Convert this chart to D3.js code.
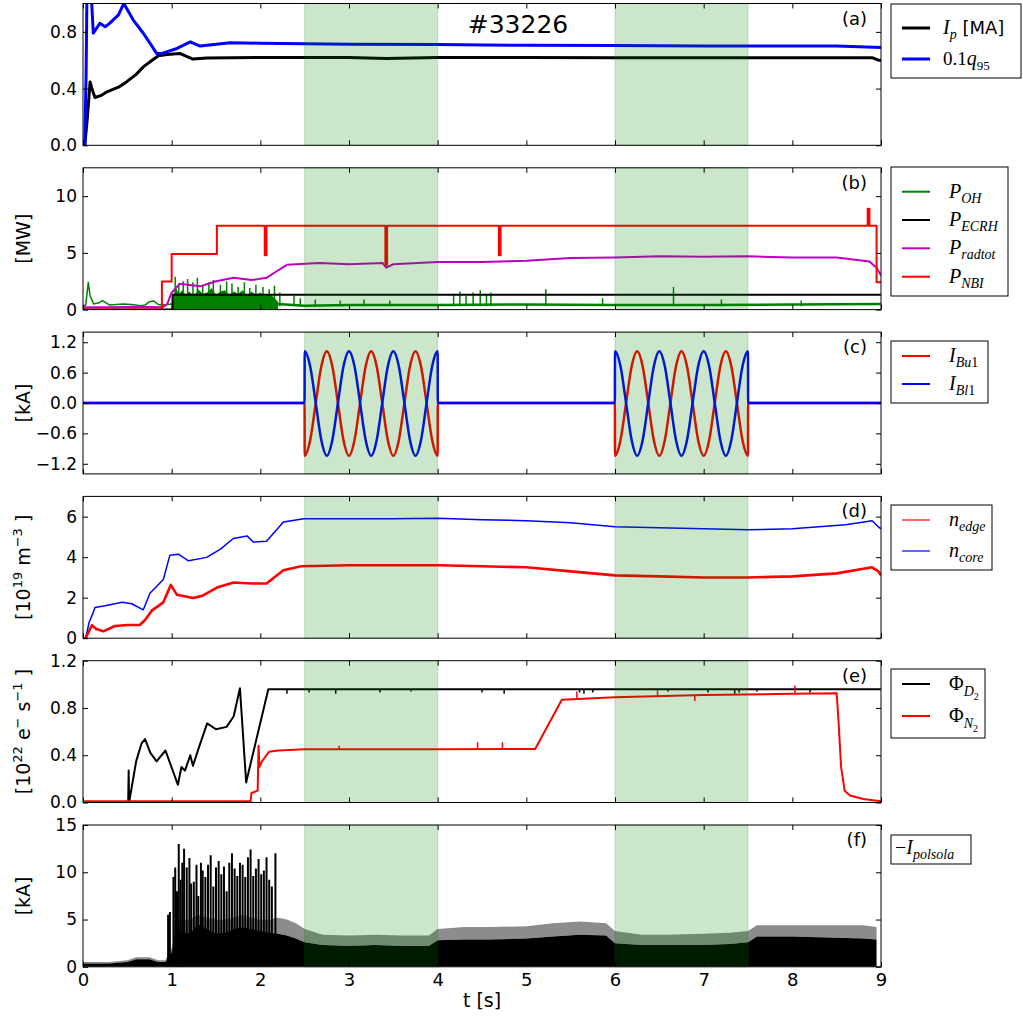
<!DOCTYPE html>
<html>
<head>
<meta charset="utf-8">
<script src="https://cdn.jsdelivr.net/npm/d3@7"></script>
<style>
  body { margin: 0; background: #fff; }
  svg { display: block; }
  text { font-family: "DejaVu Sans", sans-serif; }
</style>
</head>
<body>
<svg id="chart" width="1023" height="1023"></svg>
<script>
// ---- data (time in s) ----
const spans = [[2.5, 4.0], [6.0, 7.5]];

// (a)
const ipT = [0, 0.02, 0.05, 0.08, 0.1, 0.135, 0.2, 0.27, 0.4, 0.49, 0.6, 0.68, 0.78, 0.85, 0.95, 1.09, 1.24, 1.4, 2, 3, 3.42, 4, 5, 6, 7, 8, 8.9, 8.97, 9];
const ipV = [0, 0, 0.2, 0.447, 0.4, 0.337, 0.35, 0.377, 0.41, 0.447, 0.5, 0.553, 0.6, 0.631, 0.64, 0.648, 0.608, 0.615, 0.62, 0.62, 0.612, 0.62, 0.62, 0.618, 0.618, 0.618, 0.618, 0.6, 0.6];
const q95T = [0.02, 0.035, 0.045, 0.09, 0.116, 0.19, 0.25, 0.3, 0.4, 0.46, 0.567, 0.68, 0.755, 0.83, 0.9, 1.06, 1.21, 1.32, 1.66, 2, 3, 4, 5, 6, 7, 8, 8.5, 9];
const q95V = [0, 0.5, 1.1, 1.1, 0.79, 0.86, 0.836, 0.86, 0.92, 1.0, 0.883, 0.79, 0.72, 0.648, 0.65, 0.683, 0.73, 0.7, 0.723, 0.72, 0.713, 0.71, 0.705, 0.703, 0.7, 0.7, 0.7, 0.69];

// (b)
const nbiT = [0, 0.89, 1.0, 1.51, 2.05, 2.07, 3.41, 3.43, 4.69, 4.71, 8.85, 8.87, 8.95, 9];
const nbiV = [0, 2.48, 4.9, 7.4, 4.8, 7.4, 3.95, 7.4, 4.8, 7.4, 8.9, 7.4, 2.4, 2.4];
const ecrhT = [0, 1.01, 9];
const ecrhV = [0, 1.3, 1.3];
const radT = [0, 0.3, 0.6, 0.9, 0.95, 1.0, 1.09, 1.32, 1.5, 1.7, 1.9, 2.07, 2.18, 2.3, 2.67, 3.0, 3.38, 3.42, 3.5, 4.0, 4.5, 5.0, 5.5, 6.0, 6.5, 7.0, 7.5, 8.0, 8.5, 8.87, 8.95, 9];
const radV = [0.2, 0.2, 0.25, 0.2, 0.5, 1.5, 2.28, 2.05, 2.5, 2.8, 2.6, 2.8, 3.36, 3.95, 4.1, 4.0, 4.1, 3.7, 4.0, 4.2, 4.2, 4.3, 4.55, 4.6, 4.7, 4.65, 4.7, 4.6, 4.6, 4.25, 3.7, 3.0];
const ohT = [0, 0.03, 0.06, 0.08, 0.12, 0.18, 0.22, 0.3, 0.45, 0.55, 0.65, 0.7, 0.75, 0.8, 0.85, 0.9, 1.0];
const ohV = [0.3, 0.4, 2.4, 1.2, 0.5, 0.6, 0.8, 0.4, 0.5, 0.45, 0.35, 0.4, 0.7, 0.75, 0.45, 0.4, 0.5];
const ohBandT = [1.0, 1.02, 1.05, 1.08, 1.12, 1.16, 1.2, 1.25, 1.3, 1.35, 1.4, 1.45, 1.5, 1.55, 1.6, 1.65, 1.7, 1.75, 1.8, 1.85, 1.9, 1.95, 2.0, 2.05, 2.1, 2.15, 2.2];
const ohBandV = [0.5, 1.3, 1.9, 1.4, 1.7, 1.3, 1.6, 1.2, 1.8, 1.4, 1.5, 1.9, 1.3, 1.6, 1.7, 1.3, 1.6, 1.4, 1.7, 1.2, 1.6, 1.3, 1.5, 1.2, 1.4, 1.1, 0.7];
const ohLateT = [2.2, 2.5, 3, 4, 5, 6, 7, 8, 9];
const ohLateV = [0.5, 0.35, 0.4, 0.4, 0.45, 0.4, 0.4, 0.45, 0.5];
const ohSpkT = [1.04, 1.08, 1.13, 1.18, 1.24, 1.29, 1.35, 1.42, 1.47, 1.55, 1.62, 1.68, 1.75, 1.82, 1.88, 1.95, 2.03, 2.1, 2.16, 2.22, 2.38, 2.45, 2.62, 2.9, 3.17, 3.46, 4.18, 4.25, 4.32, 4.4, 4.48, 4.55, 4.6, 5.22, 5.86, 6.66, 7.2, 8.1];
const ohSpkV = [2.9, 2.2, 2.5, 2.7, 2.4, 2.8, 2.1, 2.4, 2.6, 2.2, 2.5, 2.3, 2.0, 2.4, 1.9, 2.2, 2.0, 1.8, 2.1, 1.5, 1.2, 1.0, 0.9, 0.8, 0.9, 0.8, 1.4, 1.6, 1.2, 1.5, 1.7, 1.3, 1.5, 1.8, 1.0, 2.0, 0.9, 0.8];

// (c)  coil currents sampled every 1/16 s inside the two windows
const oscT1 = [2.5, 2.5625, 2.625, 2.6875, 2.75, 2.8125, 2.875, 2.9375, 3, 3.0625, 3.125, 3.1875, 3.25, 3.3125, 3.375, 3.4375, 3.5, 3.5625, 3.625, 3.6875, 3.75, 3.8125, 3.875, 3.9375, 4];
const oscT2 = [6, 6.0625, 6.125, 6.1875, 6.25, 6.3125, 6.375, 6.4375, 6.5, 6.5625, 6.625, 6.6875, 6.75, 6.8125, 6.875, 6.9375, 7, 7.0625, 7.125, 7.1875, 7.25, 7.3125, 7.375, 7.4375, 7.5];
const blOsc = [1.02, 0.72, 0, -0.73, -1.04, -0.73, 0, 0.72, 1.02, 0.72, 0, -0.73, -1.04, -0.73, 0, 0.72, 1.02, 0.72, 0, -0.73, -1.04, -0.73, 0, 0.72, 1.02];
const buOsc = [-1.04, -0.73, 0, 0.72, 1.02, 0.72, 0, -0.73, -1.04, -0.73, 0, 0.72, 1.02, 0.72, 0, -0.73, -1.04, -0.73, 0, 0.72, 1.02, 0.72, 0, -0.73, -1.04];

// (d)
const ncT = [0, 0.03, 0.07, 0.1, 0.135, 0.25, 0.44, 0.55, 0.68, 0.755, 0.906, 0.98, 1.075, 1.19, 1.395, 1.55, 1.695, 1.85, 1.92, 2.07, 2.26, 2.49, 3.0, 3.5, 4.0, 4.5, 5.0, 5.5, 6.0, 6.5, 7.0, 7.5, 8.0, 8.3, 8.6, 8.9, 8.97, 9];
const ncV = [0, 0, 0.8, 1.1, 1.52, 1.6, 1.78, 1.7, 1.4, 2.22, 2.9, 4.1, 4.15, 3.82, 3.99, 4.4, 4.92, 5.05, 4.75, 4.79, 5.74, 5.9, 5.9, 5.9, 5.92, 5.85, 5.8, 5.7, 5.5, 5.45, 5.4, 5.35, 5.4, 5.5, 5.6, 5.8, 5.5, 5.4];
const neT = [0, 0.03, 0.1, 0.15, 0.23, 0.36, 0.5, 0.64, 0.7, 0.775, 0.906, 0.99, 1.06, 1.24, 1.35, 1.51, 1.7, 1.9, 2.07, 2.26, 2.46, 3, 3.5, 4, 4.5, 5, 5.5, 6, 6.5, 7, 7.5, 8, 8.5, 8.9, 8.97, 9];
const neV = [0, 0, 0.64, 0.45, 0.34, 0.6, 0.65, 0.65, 0.9, 1.36, 1.77, 2.63, 2.14, 1.98, 2.1, 2.5, 2.75, 2.7, 2.7, 3.35, 3.55, 3.6, 3.6, 3.6, 3.55, 3.5, 3.3, 3.1, 3.05, 3.0, 3.0, 3.05, 3.2, 3.5, 3.3, 3.1];

// (e)
const d2T = [0, 0.51, 0.515, 0.52, 0.6, 0.66, 0.7, 0.76, 0.83, 0.93, 1.07, 1.11, 1.15, 1.21, 1.24, 1.3, 1.4, 1.5, 1.62, 1.7, 1.77, 1.84, 2.09, 9];
const d2V = [0, 0, 0.27, 0, 0.35, 0.5, 0.537, 0.42, 0.348, 0.44, 0.15, 0.3, 0.27, 0.4, 0.31, 0.45, 0.67, 0.62, 0.64, 0.73, 0.967, 0.17, 0.958, 0.958];
const d2SpkT = [2.3, 2.55, 2.85, 3.35, 3.7, 4.5, 4.75, 5.6, 5.65, 5.75, 6.6, 7.05, 7.35, 7.4, 7.6, 8.2];
const d2SpkV = [0.92, 0.93, 0.92, 0.93, 0.94, 0.93, 0.92, 0.93, 0.92, 0.93, 0.94, 0.93, 0.92, 0.93, 0.94, 0.93];
const n2T = [0, 1.89, 1.9, 1.97, 1.98, 1.99, 2.02, 2.1, 2.2, 2.5, 3, 4, 5.1, 5.4, 6, 7, 8, 8.5, 8.52, 8.55, 8.59, 8.65, 8.8, 9];
const n2V = [0.01, 0.01, 0.08, 0.1, 0.48, 0.3, 0.35, 0.43, 0.44, 0.45, 0.45, 0.45, 0.453, 0.87, 0.89, 0.91, 0.92, 0.925, 0.7, 0.3, 0.1, 0.06, 0.03, 0.011];
const n2SpkT = [2.89, 4.45, 4.73, 5.57, 6.48, 6.9, 8.03];
const n2SpkV = [0.48, 0.51, 0.51, 0.94, 0.95, 0.86, 0.99];
const n2SpkB = [0.45, 0.45, 0.45, 0.885, 0.9, 0.905, 0.92];

// (f)
const fT = [0, 0.3, 0.5, 0.6, 0.75, 0.85, 0.93, 0.97, 1.0, 1.05, 1.1, 1.2, 1.3, 1.4, 1.5, 1.6, 1.7, 1.8, 1.9, 2.0, 2.1, 2.2, 2.3, 2.4, 2.5, 2.7, 3.0, 3.3, 3.6, 3.9, 4.0, 4.3, 4.6, 5.0, 5.3, 5.6, 5.9, 6.0, 6.3, 6.6, 7.0, 7.3, 7.5, 7.6, 8.0, 8.4, 8.8, 8.95];
const fSolid = [0.35, 0.35, 0.5, 0.8, 0.8, 0.5, 0.5, 1.2, 1.5, 3.0, 3.8, 3.5, 4.5, 4.0, 3.5, 3.6, 4.0, 4.2, 4.0, 3.8, 3.6, 3.5, 3.3, 3.0, 2.6, 2.3, 2.2, 2.3, 2.2, 2.2, 2.8, 2.9, 2.9, 3.0, 3.2, 3.4, 3.3, 2.5, 2.3, 2.3, 2.3, 2.4, 2.6, 3.2, 3.2, 3.1, 3.0, 2.9];
const fFringe = [0.5, 0.5, 0.7, 1.0, 1.0, 0.7, 0.7, 1.6, 2.0, 4.0, 5.0, 5.0, 5.5, 5.2, 5.0, 5.0, 5.2, 5.5, 5.2, 5.0, 5.0, 5.2, 5.0, 4.6, 4.0, 3.4, 3.3, 3.4, 3.3, 3.3, 4.0, 4.2, 4.2, 4.3, 4.6, 4.8, 4.6, 3.8, 3.4, 3.4, 3.5, 3.6, 3.8, 4.4, 4.4, 4.4, 4.4, 4.2];
const fSpkT = [0.96, 0.98, 1.02, 1.04, 1.06, 1.08, 1.1, 1.12, 1.14, 1.17, 1.2, 1.22, 1.25, 1.28, 1.3, 1.33, 1.35, 1.38, 1.41, 1.44, 1.47, 1.5, 1.53, 1.56, 1.59, 1.62, 1.65, 1.68, 1.71, 1.74, 1.77, 1.8, 1.83, 1.86, 1.89, 1.92, 1.95, 1.98, 2.01, 2.04, 2.07, 2.1, 2.13, 2.17];
const fSpkV = [5.5, 5.8, 9.5, 10.5, 8, 13, 9.2, 11, 12.5, 10.5, 11.5, 8.8, 9, 10.8, 7.5, 11, 10.2, 9.5, 10.8, 11.8, 8.5, 10.5, 11.2, 9.8, 10.6, 8, 11, 12, 10.4, 9.6, 11, 10.8, 9.5, 11.6, 12.4, 9.6, 10.4, 11.4, 9.8, 10.2, 11.6, 9.2, 8.5, 12];

// ---- layout ----
const svg = d3.select("#chart");
const left = 83, right = 881, pH = 141.8;
const x = d3.scaleLinear().domain([0, 9]).range([left, right]);

const panels = [
  { key: "a", domain: [0, 1.0], ticks: [0, 0.4, 0.8], fmt: d3.format(".1f") },
  { key: "b", domain: [0, 12.5], ticks: [0, 5, 10], fmt: d3.format("d") },
  { key: "c", domain: [-1.4, 1.4], ticks: [-1.2, -0.6, 0, 0.6, 1.2], fmt: d3.format(".1f") },
  { key: "d", domain: [0, 7], ticks: [0, 2, 4, 6], fmt: d3.format("d") },
  { key: "e", domain: [0, 1.2], ticks: [0, 0.4, 0.8, 1.2], fmt: d3.format(".1f") },
  { key: "f", domain: [0, 15], ticks: [0, 5, 10, 15], fmt: d3.format("d") }
];
const defs = svg.append("defs");
panels.forEach((p, i) => {
  p.top = 3.5 + i * 164.3;
  p.bottom = p.top + pH;
  p.y = d3.scaleLinear().domain(p.domain).range([p.bottom, p.top]);
  defs.append("clipPath").attr("id", "clip" + p.key)
    .append("rect").attr("x", left).attr("y", p.top).attr("width", right - left).attr("height", pH);
  p.plot = svg.append("g").attr("clip-path", `url(#clip${p.key})`);
});
const P = Object.fromEntries(panels.map(p => [p.key, p]));

const zip = (T, V) => T.map((t, i) => [t, V[i]]);

function line(p, T, V, color, w, curve) {
  p.plot.append("path").datum(zip(T, V))
    .attr("fill", "none").attr("stroke", color).attr("stroke-width", w)
    .attr("stroke-linejoin", "round")
    .attr("d", d3.line().x(d => x(d[0])).y(d => p.y(d[1])).curve(curve || d3.curveLinear));
}
function spikes(p, T, V, base, color, w) {
  p.plot.append("g").selectAll("line").data(T.map((t, i) => [t, V[i], Array.isArray(base) ? base[i] : base])).join("line")
    .attr("x1", d => x(d[0])).attr("x2", d => x(d[0]))
    .attr("y1", d => p.y(d[2])).attr("y2", d => p.y(d[1]))
    .attr("stroke", color).attr("stroke-width", w);
}
function area(p, T, lo, hi, color, op, curve) {
  const data = T.map((t, i) => [t, Array.isArray(lo) ? lo[i] : lo, hi[i]]);
  p.plot.append("path").datum(data)
    .attr("fill", color).attr("fill-opacity", op)
    .attr("d", d3.area().x(d => x(d[0])).y0(d => p.y(d[1])).y1(d => p.y(d[2])).curve(curve || d3.curveLinear));
}

// (a)
line(P.a, ipT, ipV, "#000", 3);
line(P.a, q95T, q95V, "#0000ff", 3);

// (b)
area(P.b, ohBandT, 0, ohBandV, "#008000", 1);
spikes(P.b, ohSpkT, ohSpkV, 0.3, "#008000", 1.5);
line(P.b, ohT, ohV, "#008000", 1.5);
line(P.b, ohLateT, ohLateV, "#008000", 2.5);
line(P.b, ecrhT, ecrhV, "#000", 2, d3.curveStepAfter);
line(P.b, radT, radV, "#bf00bf", 2);
line(P.b, nbiT, nbiV, "#ff0000", 2, d3.curveStepAfter);

// (c)
const buT = [0, 2.499].concat(oscT1, [4.001, 5.999], oscT2, [7.501, 9]);
const buV = [0, 0].concat(buOsc, [0, 0], buOsc, [0, 0]);
const blV = [0, 0].concat(blOsc, [0, 0], blOsc, [0, 0]);
line(P.c, buT, buV, "#ff0000", 2.5, d3.curveMonotoneX);
line(P.c, buT, blV, "#0000ff", 2.5, d3.curveMonotoneX);

// (d)
line(P.d, ncT, ncV, "#0000ff", 1.5);
line(P.d, neT, neV, "#ff0000", 2.6);

// (e)
line(P.e, d2T, d2V, "#000", 2);
spikes(P.e, d2SpkT, d2SpkV, 0.958, "#000", 1.5);
line(P.e, n2T, n2V, "#ff0000", 2);
spikes(P.e, n2SpkT, n2SpkV, n2SpkB, "#ff0000", 1.5);

// (f)
spikes(P.f, fSpkT, fSpkV, 0, "#000", 2);
area(P.f, fT, fSolid, fFringe, "#000", 0.45);
area(P.f, fT, 0, fSolid, "#000", 1);

// shaded windows on top of the data
panels.forEach(p => {
  svg.append("g").selectAll("rect").data(spans).join("rect")
    .attr("x", d => x(d[0])).attr("width", d => x(d[1]) - x(d[0]))
    .attr("y", p.top).attr("height", pH)
    .attr("fill", "#008000").attr("fill-opacity", 0.2)
    .attr("stroke", "#008000").attr("stroke-opacity", 0.2).attr("stroke-width", 1);
});

// axes and frames
const xt = d3.range(0, 10);
panels.forEach(p => {
  const g = svg.append("g");
  g.append("g").attr("transform", `translate(${left},0)`)
    .call(d3.axisLeft(p.y).tickValues(p.ticks).tickFormat(p.fmt).tickSizeInner(-5).tickSizeOuter(0).tickPadding(6))
    .call(a => a.select(".domain").remove())
    .call(a => a.selectAll("text").attr("font-size", 17).attr("font-family", "DejaVu Sans").attr("fill", "#000"));
  g.append("g").attr("transform", `translate(${right},0)`)
    .call(d3.axisRight(p.y).tickValues(p.ticks).tickFormat("").tickSizeInner(-5).tickSizeOuter(0))
    .call(a => a.select(".domain").remove());
  g.append("g").attr("transform", `translate(0,${p.top})`)
    .call(d3.axisTop(x).tickValues(xt).tickFormat("").tickSizeInner(-5).tickSizeOuter(0))
    .call(a => a.select(".domain").remove());
  g.append("g").attr("transform", `translate(0,${p.bottom})`)
    .call(d3.axisBottom(x).tickValues(xt).tickFormat(p.key === "f" ? d3.format("d") : "").tickSizeInner(-5).tickSizeOuter(0).tickPadding(6))
    .call(a => a.select(".domain").remove())
    .call(a => a.selectAll("text").attr("font-size", 18).attr("font-family", "DejaVu Sans").attr("fill", "#000"));
  g.append("rect").attr("x", left).attr("y", p.top).attr("width", right - left).attr("height", pH)
    .attr("fill", "none").attr("stroke", "#000").attr("stroke-width", 1);
  g.append("text").attr("x", 867).attr("y", p.top + 21).attr("text-anchor", "end")
    .attr("font-size", 18).text(`(${p.key})`);
});

// rich text helper: parts = [text, baselineOffset, size, style]
function rich(t, parts) {
  let cur = 0;
  parts.forEach(([s, off, size, style]) => {
    const ts = t.append("tspan").text(s).attr("font-size", size).attr("dy", off - cur);
    cur = off;
    if (style === "i") ts.attr("font-family", "Liberation Serif").attr("font-style", "italic");
    else if (style === "r") ts.attr("font-family", "Liberation Serif");
    else ts.attr("font-family", "DejaVu Sans");
  });
}

// title
svg.append("text").attr("x", 518).attr("y", 33).attr("text-anchor", "middle").attr("font-size", 25).text("#33226");

// y labels
const ylabels = [
  ["b", [["[MW]", 0, 19, "s"]]],
  ["c", [["[kA]", 0, 19, "s"]]],
  ["d", [["[10", 0, 19, "s"], ["19", -8, 13, "s"], ["  m", 0, 19, "s"], ["\u22123", -8, 13, "s"], [" ]", 0, 19, "s"]]],
  ["e", [["[10", 0, 19, "s"], ["22", -8, 13, "s"], ["  e", 0, 19, "s"], ["\u2212", -8, 13, "s"], ["  s", 0, 19, "s"], ["\u22121", -8, 13, "s"], [" ]", 0, 19, "s"]]],
  ["f", [["[kA]", 0, 19, "s"]]]
];
ylabels.forEach(([k, parts]) => {
  const p = P[k];
  const t = svg.append("text").attr("text-anchor", "middle")
    .attr("transform", `translate(30,${(p.top + p.bottom) / 2}) rotate(-90)`);
  rich(t, parts);
});

// x label
svg.append("text").attr("x", 482).attr("y", 1007).attr("text-anchor", "middle").attr("font-size", 19).text("t [s]");

// legends
function legend(x0, y0, w, h, items) {
  const g = svg.append("g");
  g.append("rect").attr("x", x0).attr("y", y0).attr("width", w).attr("height", h)
    .attr("fill", "#fff").attr("stroke", "#000").attr("stroke-width", 1);
  items.forEach(it => {
    if (it.color) {
      g.append("line").attr("x1", 902).attr("x2", 930).attr("y1", it.y).attr("y2", it.y)
        .attr("stroke", it.color).attr("stroke-width", it.w);
    }
    const t = g.append("text").attr("x", it.tx || 949).attr("y", it.y + 6);
    rich(t, it.parts);
  });
}
legend(891, 4, 130, 74, [
  { y: 28, color: "#000", w: 3, tx: 943, parts: [["I", 0, 20, "i"], ["p", 5, 14, "i"], [" [MA]", 0, 18, "s"]] },
  { y: 59, color: "#0000ff", w: 3, tx: 943, parts: [["0.1", 0, 19, "r"], ["q", 0, 20, "i"], ["95", 5, 13, "r"]] }
]);
legend(891, 167, 117, 129, [
  { y: 191.7, color: "#008000", w: 2, parts: [["P", 0, 20, "i"], ["OH", 5, 14, "i"]] },
  { y: 220, color: "#000", w: 2, parts: [["P", 0, 20, "i"], ["ECRH", 5, 14, "i"]] },
  { y: 248.3, color: "#bf00bf", w: 2, parts: [["P", 0, 20, "i"], ["radtot", 5, 14, "i"]] },
  { y: 276.7, color: "#ff0000", w: 2, parts: [["P", 0, 20, "i"], ["NBI", 5, 14, "i"]] }
]);
legend(891, 341, 97, 62, [
  { y: 356, color: "#ff0000", w: 2, parts: [["I", 0, 20, "i"], ["Bu", 5, 14, "i"], ["1", 5, 14, "r"]] },
  { y: 384, color: "#0000ff", w: 2, parts: [["I", 0, 20, "i"], ["Bl", 5, 14, "i"], ["1", 5, 14, "r"]] }
]);
legend(891, 505, 101, 65, [
  { y: 520, color: "#ff0000", w: 1.2, parts: [["n", 0, 20, "i"], ["edge", 5, 14, "i"]] },
  { y: 551, color: "#0000ff", w: 1.2, parts: [["n", 0, 20, "i"], ["core", 5, 14, "i"]] }
]);
legend(891, 669, 94, 69, [
  { y: 684, color: "#000", w: 2, parts: [["\u03a6", 0, 20, "r"], ["D", 6, 14, "i"], ["2", 10, 10, "r"]] },
  { y: 716, color: "#ff0000", w: 2, parts: [["\u03a6", 0, 20, "r"], ["N", 6, 14, "i"], ["2", 10, 10, "r"]] }
]);
legend(891, 835, 80, 29, [
  { y: 848, tx: 895, parts: [["\u2212", 0, 20, "r"], ["I", 0, 20, "i"], ["polsola", 5, 14, "i"]] }
]);
</script>
</body>
</html>
